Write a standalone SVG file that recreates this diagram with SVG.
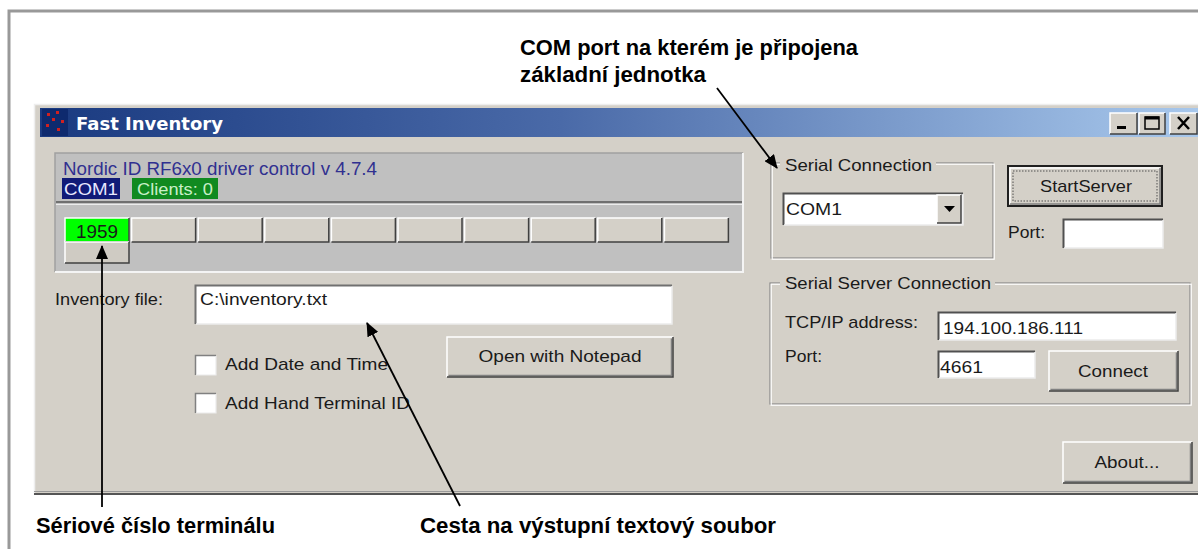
<svg xmlns="http://www.w3.org/2000/svg" width="1198" height="549" viewBox="0 0 1198 549">
<defs>
<linearGradient id="tb" x1="0" y1="0" x2="1" y2="0">
<stop offset="0" stop-color="#1a3a80"/>
<stop offset="0.45" stop-color="#4a6aa8"/>
<stop offset="1" stop-color="#a8c8ec"/>
</linearGradient>
<marker id="ah" markerUnits="userSpaceOnUse" markerWidth="14" markerHeight="12" refX="13" refY="6" orient="auto">
<path d="M0,0 L14,6 L0,12 z" fill="#000"/>
</marker>
<style>
.ui{font-family:"Liberation Sans",Arial,sans-serif;font-size:17px;fill:#1a1a1a}
.call{font-family:"Liberation Sans",Arial,sans-serif;font-size:22px;font-weight:bold;fill:#000}
.face{fill:#d4d0c8}
.hi{fill:none;stroke:#ffffff;stroke-width:1.5}
.sh{fill:none;stroke:#808080;stroke-width:1.5}
.dk{fill:none;stroke:#404040;stroke-width:1.5}
.edit{fill:#ffffff}
.etch1{fill:none;stroke:#8a8a8a;stroke-width:1.2}
.etch2{fill:none;stroke:#ffffff;stroke-width:1.2}
.conn{fill:none;stroke:#000;stroke-width:1.8;marker-end:url(#ah)}
</style>
</defs>
<rect x="0" y="0" width="1198" height="549" fill="#ffffff"/>
<!-- outer frame -->
<path d="M9,549 V11 H1198" fill="none" stroke="#999" stroke-width="3"/>

<!-- window -->
<g id="window">
<rect x="34" y="104" width="1170" height="391" fill="#d4d0c8"/>
<path d="M34.5,495 V104.5 H1198" fill="none" stroke="#eeeeee" stroke-width="1.5"/>
<path d="M34,494 H1198" stroke="#555" stroke-width="2"/>
<path d="M34,491.5 H1198" stroke="#9a9a9a" stroke-width="1.2"/>
<rect x="40" y="108" width="1158" height="29" fill="url(#tb)"/>
<g id="icon">
<rect x="42" y="109" width="26" height="27" fill="#0e2a6e"/>
<rect x="47" y="113" width="3" height="3" fill="#d02020"/>
<rect x="56" y="111" width="3" height="3" fill="#d02020"/>
<rect x="52" y="118" width="3" height="3" fill="#d02020"/>
<rect x="61" y="120" width="3" height="3" fill="#d02020"/>
<rect x="46" y="124" width="3" height="3" fill="#d02020"/>
<rect x="57" y="128" width="3" height="3" fill="#d02020"/>
</g>
<text x="76" y="130" font-family="'DejaVu Sans',Verdana,sans-serif" font-size="17" font-weight="bold" fill="#ffffff" textLength="147" lengthAdjust="spacingAndGlyphs">Fast Inventory</text>
<g id="titlebuttons">
<rect x="1110" y="113" width="27" height="21" class="face"/>
<path d="M1110,134 V113 H1137" class="hi"/><path d="M1110,134 H1137 V113" class="dk"/>
<rect x="1117" y="126" width="9" height="3" fill="#000"/>
<rect x="1139" y="113" width="26" height="21" class="face"/>
<path d="M1139,134 V113 H1165" class="hi"/><path d="M1139,134 H1165 V113" class="dk"/>
<rect x="1145" y="117" width="14" height="12" fill="none" stroke="#000" stroke-width="1.5"/>
<path d="M1145,118 H1159" stroke="#000" stroke-width="3"/>
<rect x="1170" y="113" width="27" height="21" class="face"/>
<path d="M1170,134 V113 H1197" class="hi"/><path d="M1170,134 H1197 V113" class="dk"/>
<path d="M1178,117 L1189,129 M1189,117 L1178,129" stroke="#000" stroke-width="2.5"/>
</g>
</g>

<!-- driver control panel -->
<g id="driver-panel">
<rect x="55" y="153" width="688" height="119" fill="#c0c0c0"/>
<path d="M55,272 V153 H743" fill="none" stroke="#a0a0a0" stroke-width="1.5"/>
<path d="M743,153 V272 H55" fill="none" stroke="#f4f4f4" stroke-width="2"/>
<path d="M56,202 H742" stroke="#707070" stroke-width="2"/>
<path d="M56,204.5 H742" stroke="#ececec" stroke-width="1.2"/>
<text x="63" y="175" class="ui" style="fill:#303090;font-size:18px" textLength="314" lengthAdjust="spacingAndGlyphs">Nordic ID RF6x0 driver control v 4.7.4</text>
<rect x="62" y="178" width="58" height="21" fill="#101a78"/>
<text x="64" y="195" class="ui" style="fill:#e8e8ff" textLength="54" lengthAdjust="spacingAndGlyphs">COM1</text>
<rect x="132" y="178" width="86" height="21" fill="#108a20"/>
<text x="137" y="195" class="ui" style="fill:#c8f0c8" textLength="76" lengthAdjust="spacingAndGlyphs">Clients: 0</text>
</g>

<g id="terminal-buttons">
<rect x="65" y="218" width="64" height="24" fill="#00ff00"/>
<path d="M65,242 V218 H129" class="hi"/><path d="M65,242 H129 V218" class="dk"/>
<text x="97" y="238" class="ui" style="font-size:18px" text-anchor="middle" textLength="42" lengthAdjust="spacingAndGlyphs">1959</text>
<rect x="65" y="242" width="64" height="21" class="face" style="fill:#cfcbc3"/>
<path d="M65,263 V242 H129" class="hi"/><path d="M65,263 H129 V242" class="dk"/>
<g>
<rect x="131.6" y="218" width="64" height="24" class="face"/>
<path d="M131.6,242 V218 H195.6" class="hi"/><path d="M131.6,242 H195.6 V218" class="dk"/>
<rect x="198.2" y="218" width="64" height="24" class="face"/>
<path d="M198.2,242 V218 H262.2" class="hi"/><path d="M198.2,242 H262.2 V218" class="dk"/>
<rect x="264.8" y="218" width="64" height="24" class="face"/>
<path d="M264.8,242 V218 H328.8" class="hi"/><path d="M264.8,242 H328.8 V218" class="dk"/>
<rect x="331.4" y="218" width="64" height="24" class="face"/>
<path d="M331.4,242 V218 H395.4" class="hi"/><path d="M331.4,242 H395.4 V218" class="dk"/>
<rect x="398" y="218" width="64" height="24" class="face"/>
<path d="M398,242 V218 H462" class="hi"/><path d="M398,242 H462 V218" class="dk"/>
<rect x="464.6" y="218" width="64" height="24" class="face"/>
<path d="M464.6,242 V218 H528.6" class="hi"/><path d="M464.6,242 H528.6 V218" class="dk"/>
<rect x="531.2" y="218" width="64" height="24" class="face"/>
<path d="M531.2,242 V218 H595.2" class="hi"/><path d="M531.2,242 H595.2 V218" class="dk"/>
<rect x="597.8" y="218" width="64" height="24" class="face"/>
<path d="M597.8,242 V218 H661.8" class="hi"/><path d="M597.8,242 H661.8 V218" class="dk"/>
<rect x="664.4" y="218" width="64" height="24" class="face"/>
<path d="M664.4,242 V218 H728.4" class="hi"/><path d="M664.4,242 H728.4 V218" class="dk"/>
</g>
</g>

<!-- inventory file -->
<g id="inventory-file">
<text x="55" y="305" class="ui" textLength="108" lengthAdjust="spacingAndGlyphs">Inventory file:</text>
<rect x="195" y="285" width="477" height="39" class="edit"/>
<path d="M195.5,324 V285.5 H672" fill="none" stroke="#707070" stroke-width="2"/>
<path d="M672,286 V324 H196" fill="none" stroke="#ececec" stroke-width="1.5"/>
<text x="200" y="305" class="ui" textLength="127" lengthAdjust="spacingAndGlyphs">C:\inventory.txt</text>
</g>

<g id="add-date">
<rect x="195" y="355" width="21" height="20" class="edit"/>
<path d="M195.5,375 V355.5 H216" fill="none" stroke="#808080" stroke-width="1.5"/>
<path d="M216,356 V375 H196" fill="none" stroke="#ececec" stroke-width="1.2"/>
<text x="225" y="370" class="ui" textLength="163" lengthAdjust="spacingAndGlyphs">Add Date and Time</text>
</g>
<g id="add-terminal">
<rect x="195" y="393" width="21" height="20" class="edit"/>
<path d="M195.5,413 V393.5 H216" fill="none" stroke="#808080" stroke-width="1.5"/>
<path d="M216,394 V413 H196" fill="none" stroke="#ececec" stroke-width="1.2"/>
<text x="225" y="409" class="ui" textLength="185" lengthAdjust="spacingAndGlyphs">Add Hand Terminal ID</text>
</g>

<g id="open-notepad">
<rect x="447" y="337" width="226" height="40" class="face"/>
<path d="M447,377 V337 H673" class="hi"/>
<path d="M448.5,375.5 H671.5 V338.5" class="sh"/>
<path d="M447,377 H673 V337" class="dk"/>
<text x="560" y="362" class="ui" text-anchor="middle" textLength="163" lengthAdjust="spacingAndGlyphs">Open with Notepad</text>
</g>

<!-- serial connection -->
<g id="serial-connection">
<rect x="771" y="163" width="222" height="95" class="etch1"/>
<rect x="772.2" y="164.2" width="222" height="95" class="etch2"/>
<rect x="780" y="155" width="156" height="20" fill="#d4d0c8"/>
<text x="785" y="171" class="ui" textLength="147" lengthAdjust="spacingAndGlyphs">Serial Connection</text>
<rect x="783" y="193" width="180" height="32" class="edit"/>
<path d="M783.5,225 V193.5 H963" fill="none" stroke="#505050" stroke-width="2"/>
<path d="M963,194 V225 H784" fill="none" stroke="#ececec" stroke-width="1.5"/>
<text x="786" y="215" class="ui" textLength="56" lengthAdjust="spacingAndGlyphs">COM1</text>
<rect x="937" y="195" width="24" height="28" class="face"/>
<path d="M937,223 V195 H961" class="hi"/><path d="M937,223 H961 V195" class="dk"/>
<path d="M944,206 H955 L949.5,212 z" fill="#000"/>
</g>

<g id="start-server">
<rect x="1007" y="165" width="156" height="42" class="face"/>
<rect x="1008" y="166" width="154" height="40" fill="none" stroke="#202020" stroke-width="2"/>
<path d="M1010,204 V168 H1160" class="hi"/>
<path d="M1010,204 H1160 V168" class="sh"/>
<rect x="1013" y="171" width="144" height="30" fill="none" stroke="#505050" stroke-width="1" stroke-dasharray="1.5,1.5"/>
<text x="1086" y="192" class="ui" text-anchor="middle" textLength="92" lengthAdjust="spacingAndGlyphs">StartServer</text>
</g>

<g id="server-port">
<text x="1008" y="238" class="ui" textLength="37" lengthAdjust="spacingAndGlyphs">Port:</text>
<rect x="1063" y="219" width="100" height="29" class="edit"/>
<path d="M1063.5,248 V219.5 H1163" fill="none" stroke="#505050" stroke-width="2"/>
<path d="M1163,220 V248 H1064" fill="none" stroke="#ececec" stroke-width="1.5"/>
</g>

<!-- serial server connection -->
<g id="serial-server-connection">
<rect x="770" y="283" width="420" height="121" class="etch1"/>
<rect x="771.2" y="284.2" width="420" height="121" class="etch2"/>
<rect x="780" y="274" width="215" height="20" fill="#d4d0c8"/>
<text x="785" y="289" class="ui" textLength="206" lengthAdjust="spacingAndGlyphs">Serial Server Connection</text>
<text x="785" y="328" class="ui" textLength="133" lengthAdjust="spacingAndGlyphs">TCP/IP address:</text>
<rect x="938" y="312" width="238" height="28" class="edit"/>
<path d="M938.5,340 V312.5 H1176" fill="none" stroke="#505050" stroke-width="2"/>
<path d="M1176,313 V340 H939" fill="none" stroke="#ececec" stroke-width="1.5"/>
<text x="943" y="334" class="ui" textLength="140" lengthAdjust="spacingAndGlyphs">194.100.186.111</text>
<text x="785" y="362" class="ui" textLength="37" lengthAdjust="spacingAndGlyphs">Port:</text>
<rect x="938" y="351" width="97" height="27" class="edit"/>
<path d="M938.5,378 V351.5 H1035" fill="none" stroke="#505050" stroke-width="2"/>
<path d="M1035,352 V378 H939" fill="none" stroke="#ececec" stroke-width="1.5"/>
<text x="940" y="373" class="ui" textLength="43" lengthAdjust="spacingAndGlyphs">4661</text>
<rect x="1049" y="351" width="129" height="40" class="face"/>
<path d="M1049,391 V351 H1178" class="hi"/>
<path d="M1050.5,389.5 H1176.5 V352.5" class="sh"/>
<path d="M1049,391 H1178 V351" class="dk"/>
<text x="1113" y="377" class="ui" text-anchor="middle" textLength="70" lengthAdjust="spacingAndGlyphs">Connect</text>
</g>

<g id="about">
<rect x="1063" y="442" width="129" height="41" class="face"/>
<path d="M1063,483 V442 H1192" class="hi"/>
<path d="M1064.5,481.5 H1190.5 V443.5" class="sh"/>
<path d="M1063,483 H1192 V442" class="dk"/>
<text x="1127" y="468" class="ui" text-anchor="middle" textLength="65" lengthAdjust="spacingAndGlyphs">About...</text>
</g>

<!-- callout labels -->
<g id="label-com">
<text x="520" y="55" class="call" textLength="338" lengthAdjust="spacingAndGlyphs">COM port na kterém je připojena</text>
<text x="520" y="82" class="call" textLength="186" lengthAdjust="spacingAndGlyphs">základní jednotka</text>
</g>
<g id="label-serial">
<text x="36" y="533" class="call" textLength="239" lengthAdjust="spacingAndGlyphs">Sériové číslo terminálu</text>
</g>
<g id="label-path">
<text x="420" y="533" class="call" textLength="356" lengthAdjust="spacingAndGlyphs">Cesta na výstupní textový soubor</text>
</g>

<!-- connectors -->
<g id="connectors">
<path d="M717,88 L777,168" class="conn"/>
<path d="M102,507 L102,246" class="conn"/>
<path d="M460,506 L367,323" class="conn"/>
</g>
</svg>
